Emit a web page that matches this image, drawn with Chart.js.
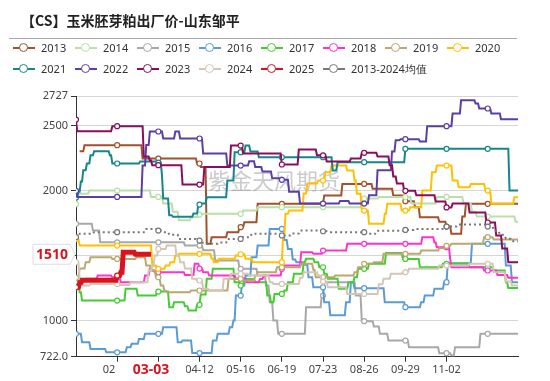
<!DOCTYPE html>
<html>
<head>
<meta charset="utf-8">
<script src="https://cdn.jsdelivr.net/npm/chart.js@4.4.1/dist/chart.umd.min.js"></script>
<style>
  body { margin: 0; background: #fff; }
  #wrap { position: relative; width: 550px; height: 381px; overflow: hidden; }
  #c { position: absolute; left: 0; top: 0; }
  #title { position: absolute; left: 21px; top: 10px; font: bold 14px "Noto Sans CJK SC", sans-serif; color: #222; white-space: nowrap; }
  #rule { position: absolute; left: 9px; top: 38px; width: 508px; height: 1px; background: #aaa; }
  .lg { position: absolute; height: 16px; font: 11px "Noto Sans", sans-serif; color: #333; white-space: nowrap; }
  .lg .ln { position: absolute; left: 0; top: 7px; width: 22px; height: 2px; }
  .lg .dot { position: absolute; left: 6px; top: 3px; width: 7px; height: 7px; border-radius: 50%; background: #fff; border: 1.5px solid; }
  .lg .tx { position: absolute; left: 28px; top: 0; line-height: 16px; }
</style>
</head>
<body>
<div id="wrap">
  <canvas id="c" width="550" height="381"></canvas>
  <div id="title">【CS】玉米胚芽粕出厂价-山东邹平</div>
  <div id="rule"></div>
</div>
<script>
// --- Dữ liệu: [ngày trong năm, giá] tại các điểm đổi giá ---
const s2013 = [[3,2302],[7,2349],[55,2246],[100,2208],[103,2180],[108,1590],[112,1641],[125,1680],[135,1718],[139,1756],[150,1898],[205,1962],[220,2051],[245,2013],[262,1962],[272,1918],[280,1872],[284,1795],[300,1760],[306,1723],[310,1667],[319,1800],[322,1898]];
const s2014 = [[0,1895],[1,1975],[11,2000],[62,1951],[72,1900],[80,1836],[85,1772],[95,1797],[102,1815],[105,1821],[138,1846],[150,1872],[236,1938],[250,1950],[277,1900],[298,1951],[320,1900],[327,1836],[331,1800],[363,1759]];
const s2015 = [[0,1744],[14,1692],[20,1602],[90,1577],[105,1540],[115,1462],[135,1398],[150,1346],[157,1269],[160,1141],[163,1000],[167,898],[190,1103],[203,1192],[205,1295],[231,1192],[236,995],[246,954],[251,898],[258,846],[275,795],[300,749],[310,731],[313,795],[334,898]];
const s2016 = [[0,898],[5,833],[12,782],[25,756],[42,795],[46,821],[52,859],[57,898],[72,949],[84,833],[88,846],[96,750],[113,846],[117,898],[127,949],[130,1000],[132,1192],[137,1269],[140,1346],[145,1487],[150,1577],[160,1705],[172,1620],[175,1551],[179,1470],[182,1449],[188,1430],[192,1333],[196,1256],[205,1141],[210,1040],[223,1141],[227,1295],[230,1249],[255,1141],[272,1103],[285,1141],[288,1192],[296,1244],[304,1295],[307,1440],[327,1590],[355,1423],[360,1295]];
const s2017 = [[0,1295],[3,1218],[5,1154],[41,1244],[51,1192],[67,1223],[77,1103],[81,1141],[90,1110],[93,1077],[100,1121],[103,1200],[108,1321],[113,1398],[131,1295],[136,1269],[139,1320],[148,1295],[158,1192],[161,1141],[164,1205],[172,1231],[175,1295],[180,1359],[188,1449],[190,1475],[197,1449],[201,1410],[205,1360],[208,1321],[217,1244],[225,1295],[230,1333],[233,1398],[242,1436],[256,1520],[270,1474],[284,1410],[303,1436],[325,1410],[345,1385],[355,1295],[357,1251]];
const s2018 = [[0,1256],[3,1300],[8,1321],[18,1346],[30,1333],[37,1295],[57,1346],[61,1398],[63,1385],[65,1372],[90,1350],[98,1436],[102,1400],[105,1372],[110,1346],[132,1321],[141,1295],[152,1320],[155,1346],[170,1398],[172,1423],[186,1526],[196,1513],[204,1538],[224,1590],[286,1641],[296,1600],[298,1564],[309,1474],[310,1410],[337,1385],[348,1351],[357,1330]];
const s2019 = [[0,1330],[3,1400],[8,1449],[12,1487],[30,1474],[50,1487],[58,1423],[62,1385],[66,1333],[70,1269],[73,1230],[75,1218],[95,1231],[126,1321],[137,1308],[148,1346],[150,1372],[166,1410],[186,1436],[196,1390],[198,1333],[214,1346],[230,1372],[233,1410],[238,1436],[246,1449],[254,1513],[285,1538],[300,1557],[306,1575],[310,1590],[337,1641],[345,1624]];
const s2020 = [[0,1628],[3,1577],[63,1423],[67,1398],[74,1423],[78,1449],[82,1500],[85,1513],[112,1477],[114,1449],[118,1475],[132,1500],[136,1510],[140,1475],[146,1449],[171,1650],[173,1821],[176,1846],[188,1977],[191,2054],[200,2077],[206,2141],[211,2192],[224,2154],[230,2077],[232,1975],[236,1846],[242,1744],[255,1821],[257,1898],[269,1846],[276,1872],[286,2000],[294,2141],[298,2192],[311,2077],[316,2026],[326,2051],[338,2000],[343,1898],[362,1949]];
const s2021 = [[0,1946],[2,1990],[4,2069],[6,2156],[9,2208],[12,2271],[15,2302],[28,2271],[30,2208],[53,2223],[67,2215],[71,2118],[72,1938],[77,1810],[80,1798],[97,1823],[101,1892],[104,1900],[108,1949],[125,2077],[131,2295],[140,2346],[144,2300],[151,2256],[210,2256],[212,2154],[216,2218],[272,2321],[358,2000]];
const s2022 = [[0,1998],[1,1951],[55,2192],[58,2350],[61,2454],[72,2400],[82,2454],[86,2400],[105,2285],[125,2192],[143,2225],[148,2180],[154,2146],[162,2094],[170,2082],[176,1990],[185,1900],[218,1920],[226,1900],[242,1964],[249,2156],[261,2300],[264,2387],[268,2395],[284,2377],[290,2495],[311,2592],[318,2694],[330,2669],[333,2631],[343,2592],[351,2549]];
const s2023 = [[0,2546],[1,2456],[30,2495],[56,2261],[61,2230],[63,2195],[88,2046],[106,2180],[128,2346],[138,2285],[170,2200],[184,2315],[199,2271],[207,2223],[227,2246],[236,2290],[249,2261],[259,2195],[262,2108],[265,2054],[271,1998],[281,1964],[297,1915],[306,1870],[311,1900],[325,1831],[339,1754],[347,1654],[352,1554],[357,1449]];
const s2024 = [[0,1449],[3,1321],[6,1269],[12,1282],[35,1274],[45,1295],[60,1385],[63,1420],[65,1500],[68,1551],[75,1577],[83,1500],[86,1449],[90,1400],[96,1321],[100,1308],[105,1244],[110,1231],[122,1321],[128,1359],[143,1346],[160,1295],[163,1282],[185,1330],[188,1372],[200,1346],[203,1300],[208,1256],[224,1205],[250,1280],[254,1321],[260,1359],[270,1372],[275,1398],[300,1423],[325,1436],[345,1372],[355,1300],[360,1269]];
const s2025 = [[0,1256],[3,1290],[5,1310],[34,1346],[37,1372],[39,1526],[49,1510]];
const sAvg = [[0,1641],[3,1667],[15,1680],[58,1705],[67,1692],[72,1680],[77,1660],[85,1628],[100,1615],[105,1590],[118,1600],[125,1628],[137,1641],[145,1667],[170,1654],[178,1670],[185,1692],[203,1687],[208,1680],[240,1667],[248,1690],[272,1697],[280,1705],[306,1723],[315,1738],[339,1723],[345,1690],[350,1660],[355,1630],[360,1610]];

const seriesNames = ['2013','2014','2015','2016','2017','2018','2019','2020','2021','2022','2023','2024','2025','2013-2024均值'];
const seriesData = [s2013, s2014, s2015, s2016, s2017, s2018, s2019, s2020, s2021, s2022, s2023, s2024, s2025, sAvg];
const seriesColors = ['#a0522d','#b8e0a8','#a8a8a8','#5b9bd5','#44cc33','#ff33cc','#bba86f','#ffc000','#14868c','#5b3fa8','#8b0d5d','#d4c6b4','#d9141e','#777777'];

const lastDay = 365;        // 12-31 (năm nhuận)
const latestDay = 62;       // 03-03
const latestLabel = '03-03';
const latestValue = 1510;

const xTickPos = [34, 68, 102, 136, 170, 204, 238, 272, 306];
const xTickLabels = ['02-04','03-09','04-12','05-16','06-19','07-23','08-26','09-29','11-02'];
const yTickPos = [722, 1000, 1500, 2000, 2500, 2727];
const yTickLabels = ['722.0','1000','','2000','2500','2727'];

// giữ giá cho đến lần đổi kế tiếp
function expand(steps, last) {
  const pts = [];
  let k = 0;
  for (let d = steps[0][0]; d <= last; d++) {
    while (k + 1 < steps.length && steps[k + 1][0] <= d) k++;
    pts.push({ x: d, y: steps[k][1] });
  }
  return pts;
}

// --- Chú thích ---
const wrap = document.getElementById('wrap');
seriesNames.forEach((name, i) => {
  const row = Math.floor(i / 8), col = i % 8;
  const el = document.createElement('div');
  el.className = 'lg';
  el.style.left = (13 + col * 62) + 'px';
  el.style.top = (40 + row * 21) + 'px';
  el.innerHTML = `<span class="ln" style="background:${seriesColors[i]}"></span>` +
    `<span class="dot" style="border-color:${seriesColors[i]}"></span>` +
    `<span class="tx">${name}</span>`;
  wrap.appendChild(el);
});

// --- Vẽ thêm: watermark, nhãn 1510, nhãn 03-03 ---
const overlay = {
  id: 'overlay',
  beforeDatasetsDraw(chart) {
    const c = chart.ctx;
    c.save();
    c.font = '22px "Noto Sans CJK SC", sans-serif';
    c.fillStyle = 'rgba(140,140,140,0.45)';
    c.textBaseline = 'middle';
    c.fillText('紫金天风期货', 208, 181);
    c.restore();
  },
  afterDraw(chart) {
    const c = chart.ctx;
    const ys = chart.scales.y, xs = chart.scales.x;
    const py = ys.getPixelForValue(latestValue);
    c.save();
    // nhãn giá
    c.beginPath();
    c.moveTo(33, py - 10);
    c.lineTo(70, py - 10);
    c.lineTo(75, py);
    c.lineTo(70, py + 10);
    c.lineTo(33, py + 10);
    c.closePath();
    c.fillStyle = '#fff';
    c.fill();
    c.strokeStyle = '#ddd';
    c.lineWidth = 1;
    c.stroke();
    c.font = 'bold 14px "Noto Sans", sans-serif';
    c.fillStyle = seriesColors[12];
    c.textAlign = 'center';
    c.textBaseline = 'middle';
    c.fillText(String(latestValue), 52, py + 0.5);
    // nhãn ngày
    const px = xs.getPixelForValue(latestDay);
    c.fillStyle = '#fff';
    c.fillRect(px - 35, 362, 70, 19);
    c.fillStyle = seriesColors[12];
    c.fillText(latestLabel, px, 370);
    c.restore();
  }
};

const datasets = seriesData.map((steps, i) => {
  const isNow = i === 12, isAvg = i === 13;
  return {
    label: seriesNames[i],
    data: expand(steps, isNow ? latestDay : lastDay),
    borderColor: seriesColors[i],
    backgroundColor: '#fff',
    borderWidth: isNow ? 5 : 2,
    borderDash: isAvg ? [2, 3] : [],
    pointRadius: c => (c.raw && c.raw.x % 34 === 0 ? 2.5 : 0),
    pointBorderWidth: 1.2,
    pointBorderColor: seriesColors[i],
    pointBackgroundColor: '#fff',
    pointHoverRadius: 0,
    tension: 0,
    fill: false,
    order: 20 - i
  };
});

new Chart(document.getElementById('c'), {
  type: 'line',
  data: { datasets },
  plugins: [overlay],
  options: {
    responsive: false,
    devicePixelRatio: 1,
    animation: false,
    events: [],
    layout: { padding: { top: 96, left: 0, right: 32, bottom: 0 } },
    plugins: { legend: { display: false }, tooltip: { enabled: false } },
    scales: {
      x: {
        type: 'linear',
        min: 0,
        max: lastDay,
        afterBuildTicks: s => { s.ticks = xTickPos.map(v => ({ value: v })); },
        afterFit: s => { s.height = 24.3; },
        ticks: {
          autoSkip: false,
          maxRotation: 0,
          padding: 2,
          color: '#444',
          font: { family: 'Noto Sans', size: 11 },
          callback: v => xTickLabels[xTickPos.indexOf(v)] ?? ''
        },
        grid: { drawOnChartArea: false, drawTicks: true, tickLength: 5, color: '#333' },
        border: { display: true, color: '#333', width: 1 }
      },
      y: {
        type: 'linear',
        min: 722,
        max: 2727,
        afterBuildTicks: s => { s.ticks = yTickPos.map(v => ({ value: v })); },
        afterFit: s => { s.width = 76; },
        ticks: {
          autoSkip: false,
          padding: 3,
          color: '#444',
          font: { family: 'Noto Sans', size: 11 },
          callback: v => yTickLabels[yTickPos.indexOf(v)] ?? ''
        },
        grid: { color: '#d6d6d6', tickColor: '#333', tickLength: 5, drawTicks: true },
        border: { display: true, color: '#333', width: 1 }
      }
    }
  }
});
</script>
</body>
</html>
